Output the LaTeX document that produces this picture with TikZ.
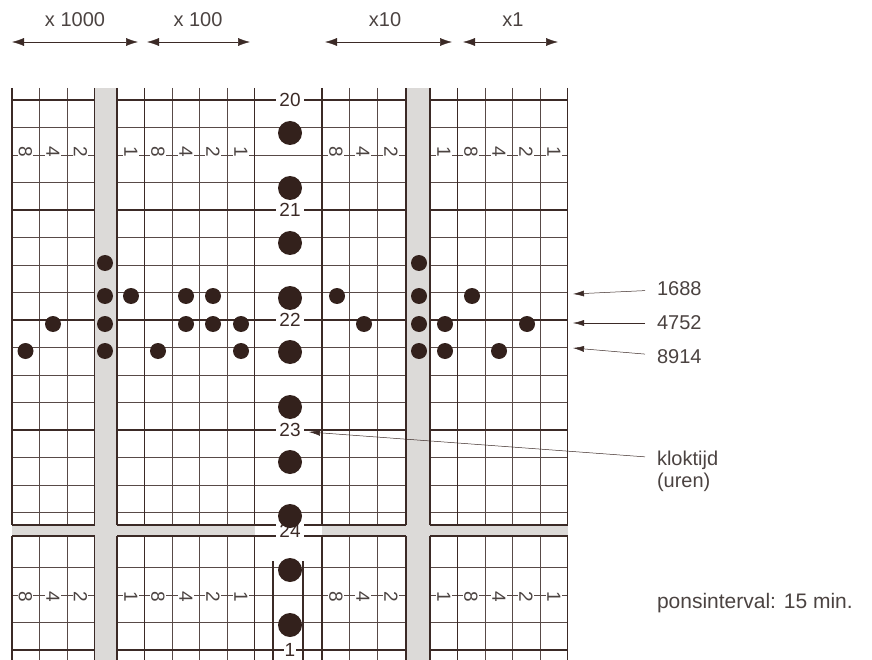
\documentclass[tikz,border=0pt]{standalone}
\usepackage{fontspec}
\setmainfont{Liberation Sans}
\usetikzlibrary{arrows.meta, positioning}
\definecolor{tapeink}{HTML}{3B2A26}
\definecolor{holeink}{HTML}{33211C}
\definecolor{labelink}{HTML}{4B4341}
\definecolor{stripgray}{HTML}{DCDAD8}
\newcommand{\hole}[2]{\fill[holeink] (#1,#2) circle (8pt);}
\tikzset{
  thinrule/.style={tapeink!85, line width=0.6pt},
  grouprule/.style={tapeink, line width=1.1pt},
  hourrule/.style={tapeink, line width=1.6pt},
  bitlabel/.style={rotate=-90, fill=white, inner sep=1pt, text=labelink,
                   font=\fontsize{19}{19}\selectfont},
  hourlabel/.style={fill=white, inner sep=3pt, text=tapeink,
                    font=\fontsize{19}{19}\selectfont},
  sidelabel/.style={anchor=west, text=labelink, outer xsep=10pt, inner sep=2pt},
  pointer/.style={-{Latex[length=11pt, width=6pt]}, tapeink, line width=0.5pt},
  rangearrow/.style={{Latex[length=12pt, width=8pt]}-{Latex[length=12pt, width=8pt]},
                     tapeink, line width=0.5pt},
}

\begin{document}
\begin{tikzpicture}[x=1pt, y=-1pt, font=\fontsize{20}{24}\selectfont]
  \useasboundingbox (0,0) rectangle (872,660);

  % header
  \node[text=labelink] (m1000) at (75,20) {x 1000};
  \node[text=labelink] (m100) at (198,20) {x 100};
  \node[text=labelink] (m10) at (385,20) {x10};
  \node[text=labelink] (m1) at (513,20) {x1};
  \coordinate (m1000a) at (12,42);  \coordinate (m1000b) at (138,42);
  \coordinate (m100a) at (147,42);  \coordinate (m100b) at (250,42);
  \coordinate (m10a) at (325,42);   \coordinate (m10b) at (452,42);
  \coordinate (m1a) at (463,42);    \coordinate (m1b) at (558,42);
  \draw[rangearrow] (m1000a) -- (m1000b);
  \draw[rangearrow] (m100a) -- (m100b);
  \draw[rangearrow] (m10a) -- (m10b);
  \draw[rangearrow] (m1a) -- (m1b);

  % tape strips
  \fill[stripgray] (94.5,88) rectangle (117,660);
  \fill[stripgray] (406,88) rectangle (430,660);
  \fill[stripgray] (12,525) rectangle (254.5,536);
  \fill[stripgray] (322,525) rectangle (567.5,536);

  % grid
  \foreach \x in {39.5,67,172,199.5,227,349,377,485,512.5,540} {
    \draw[thinrule] (\x,88) -- (\x,525);
    \draw[thinrule] (\x,536) -- (\x,660);
  }
  \foreach \y in {127.5,155,182.5,237.5,265,292.5,347.5,375,402.5,457.5,485,512.5,567.5,595,622.5}
    \draw[thinrule] (12,\y) -- (94.5,\y) (117,\y) -- (406,\y) (430,\y) -- (567.5,\y);
  \foreach \y in {100,210,320,430,525,536,650}
    \draw[hourrule] (12,\y) -- (94.5,\y) (117,\y) -- (406,\y) (430,\y) -- (567.5,\y);
  \foreach \x in {12,94.5,144.5,457.5} {
    \draw[grouprule] (\x,88) -- (\x,525);
    \draw[grouprule] (\x,536) -- (\x,660);
  }
  \foreach \x in {117,254.5,322,406,430,567.5} {
    \draw[hourrule] (\x,88) -- (\x,525);
    \draw[hourrule] (\x,536) -- (\x,660);
  }
  \draw[grouprule] (273,561) -- (273,660);
  \draw[grouprule] (303,561) -- (303,660);

  % bit weights
  \foreach \x/\w in {25.5/8,53/4,80.5/2,131/1,158/8,186/4,213/2,241/1,
                     336/8,363/4,391/2,444/1,471/8,499/4,526/2,554/1} {
    \node[bitlabel] at (\x,152) {\w};
    \node[bitlabel] at (\x,597) {\w};
  }

  % clock hours
  \node[hourlabel] (h20) at (290,100) {20};
  \node[hourlabel] (h21) at (290,210) {21};
  \node[hourlabel] (h22) at (290,320) {22};
  \node[hourlabel] (h23) at (290,430) {23};
  \node[hourlabel] (h24) at (290,531) {24};
  \node[hourlabel, inner sep=1pt] (h1) at (290,650) {1};

  % holes
  \foreach \y in {133,188,243,298,352,407,462,516,570,625}
    \fill[holeink] (290,\y) circle (12pt);
  \foreach \y in {263,296,324,351} {
    \hole{105}{\y}
    \hole{419}{\y}
  }
  \foreach \x in {131,186,213,337,472} {\hole{\x}{296}}
  \foreach \x in {53,186,213,241,364,445,527} {\hole{\x}{324}}
  \foreach \x in {25.5,158,241,445,499} {\hole{\x}{351}}

  % readings
  \node[sidelabel] (n1688) at (645,289) {1688};
  \node[sidelabel] (n4752) at (645,323) {4752};
  \node[sidelabel] (n8914) at (645,357) {8914};
  \node[sidelabel] (klok) at (645,460) {kloktijd};
  \node[sidelabel] (uren) at (645,482) {(uren)};
  \node[sidelabel, font=\fontsize{21}{24}\selectfont] (pons) at (645,603) {ponsinterval: 15 min.};
  \coordinate (t1688) at (573,294);
  \coordinate (t4752) at (573,323);
  \coordinate (t8914) at (573,348);
  \coordinate (tklok) at (309,432);
  \draw[pointer] (n1688) -- (t1688);
  \draw[pointer] (n4752) -- (t4752);
  \draw[pointer] (n8914) -- (t8914);
  \draw[pointer] (klok) -- (tklok);
\end{tikzpicture}
\end{document}
